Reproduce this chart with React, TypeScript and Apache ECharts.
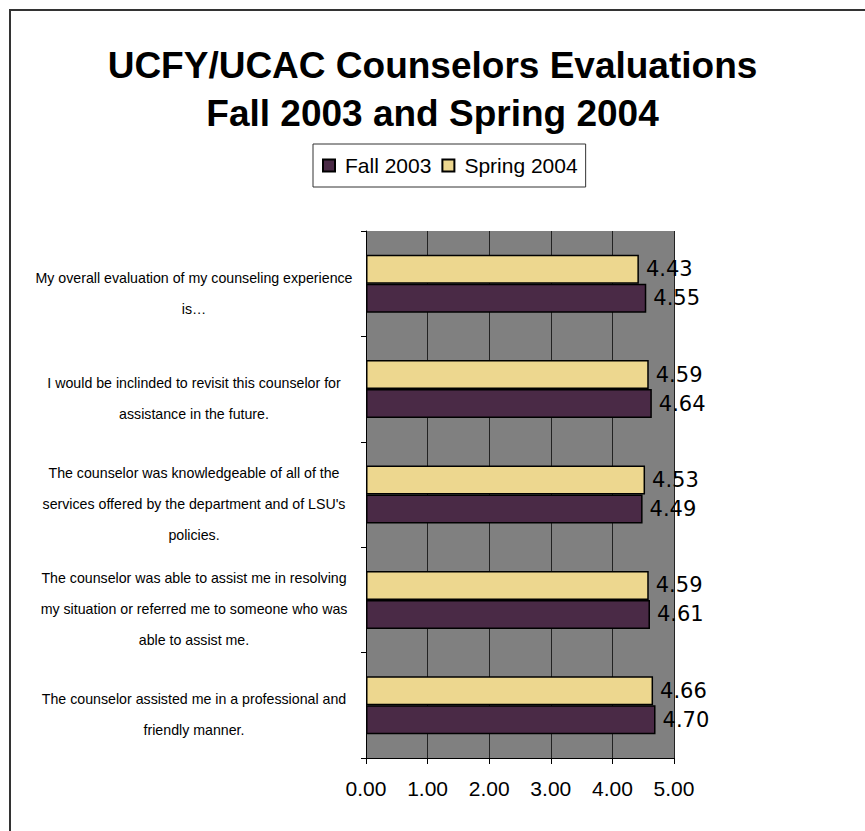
import React, { useEffect, useRef } from "react";
import * as echarts from "echarts";

// Categories listed from top to bottom as in the chart
const categoriesTopDown = [
  "My overall evaluation of my counseling experience\nis…",
  "I would be inclinded to revisit this counselor for\nassistance in the future.",
  "The counselor was knowledgeable of all of the\nservices offered by the department and of LSU's\npolicies.",
  "The counselor was able to assist me in resolving\nmy situation or referred me to someone who was\nable to assist me.",
  "The counselor assisted me in a professional and\nfriendly manner.",
];
const fall2003TopDown = [4.55, 4.64, 4.49, 4.61, 4.7];
const spring2004TopDown = [4.43, 4.59, 4.53, 4.59, 4.66];
const seriesNames = ["Fall 2003", "Spring 2004"];
const titleLines = ["UCFY/UCAC Counselors Evaluations", "Fall 2003 and Spring 2004"];

const PURPLE = "#4A2A46";
const YELLOW = "#EDD78F";

export default function App() {
  const ref = useRef<HTMLDivElement>(null);
  useEffect(() => {
    if (!ref.current) return;
    const chart = echarts.init(ref.current, undefined, { renderer: "svg" });
    const categories = [...categoriesTopDown].reverse();
    const fall = [...fall2003TopDown].reverse();
    const spring = [...spring2004TopDown].reverse();
    const labelStyle = {
      show: true,
      position: "right" as const,
      distance: 7,
      fontFamily: "DejaVu Sans",
      fontSize: 21,
      color: "#000",
      formatter: (p: any) => Number(p.value).toFixed(2),
    };
    chart.setOption({
      animation: false,
      backgroundColor: "#fff",
      title: {
        text: titleLines.join("\n"),
        left: "center",
        top: 36,
        textStyle: {
          fontFamily: "Liberation Sans",
          fontWeight: "bold",
          fontSize: 37,
          lineHeight: 48,
          color: "#000",
        },
      },
      legend: {
        data: seriesNames,
        left: 313,
        top: 144,
        orient: "horizontal",
        itemWidth: 12,
        itemHeight: 12,
        itemGap: 10,
        padding: [11, 8, 11, 9],
        borderColor: "#333",
        borderWidth: 1,
        backgroundColor: "#fff",
        icon: "rect",
        textStyle: {
          fontFamily: "Liberation Sans",
          fontSize: 21,
          color: "#000",
          padding: [0, 0, 0, 5],
        },
      },
      graphic: [
        {
          type: "rect",
          shape: { x: 10, y: 10, width: 900, height: 900 },
          style: { fill: "none", stroke: "#333", lineWidth: 2 },
          silent: true,
          z: 100,
        },
      ],
      grid: {
        left: 366,
        top: 231,
        right: 191,
        bottom: 73,
        show: true,
        backgroundColor: "#808080",
        borderWidth: 0,
        containLabel: false,
      },
      xAxis: {
        type: "value",
        min: 0,
        max: 5,
        interval: 1,
        axisLine: { show: true, lineStyle: { color: "#000", width: 1 } },
        axisTick: { show: true, length: 6, lineStyle: { color: "#000" } },
        splitLine: { show: true, lineStyle: { color: "#222", width: 1 } },
        axisLabel: {
          formatter: (v: number) => v.toFixed(2),
          fontFamily: "Liberation Sans",
          fontSize: 21,
          color: "#000",
          margin: 20,
        },
      },
      yAxis: {
        type: "category",
        data: categories,
        axisLine: { show: true, lineStyle: { color: "#000", width: 1 } },
        axisTick: { show: true, length: 5, lineStyle: { color: "#000" } },
        axisLabel: {
          fontFamily: "Liberation Sans",
          fontSize: 14.2,
          lineHeight: 31,
          color: "#000",
          align: "center",
          margin: 172,
          formatter: (v: string) => "{pad| }\n" + v,
          rich: {
            pad: { lineHeight: 19, fontSize: 2 },
          },
        },
      },
      series: [
        {
          name: seriesNames[1],
          type: "bar",
          data: spring,
          barWidth: 29,
          barGap: "0%",
          itemStyle: { color: YELLOW, borderColor: "#000", borderWidth: 1.5 },
          label: labelStyle,
        },
        {
          name: seriesNames[0],
          type: "bar",
          data: fall,
          barWidth: 29,
          barGap: "0%",
          itemStyle: { color: PURPLE, borderColor: "#000", borderWidth: 1.5 },
          label: labelStyle,
        },
      ],
    });
    return () => chart.dispose();
  }, []);
  return (
    <div
      ref={ref}
      style={{ position: "fixed", left: 0, top: 0, width: 865, height: 831 }}
    />
  );
}
